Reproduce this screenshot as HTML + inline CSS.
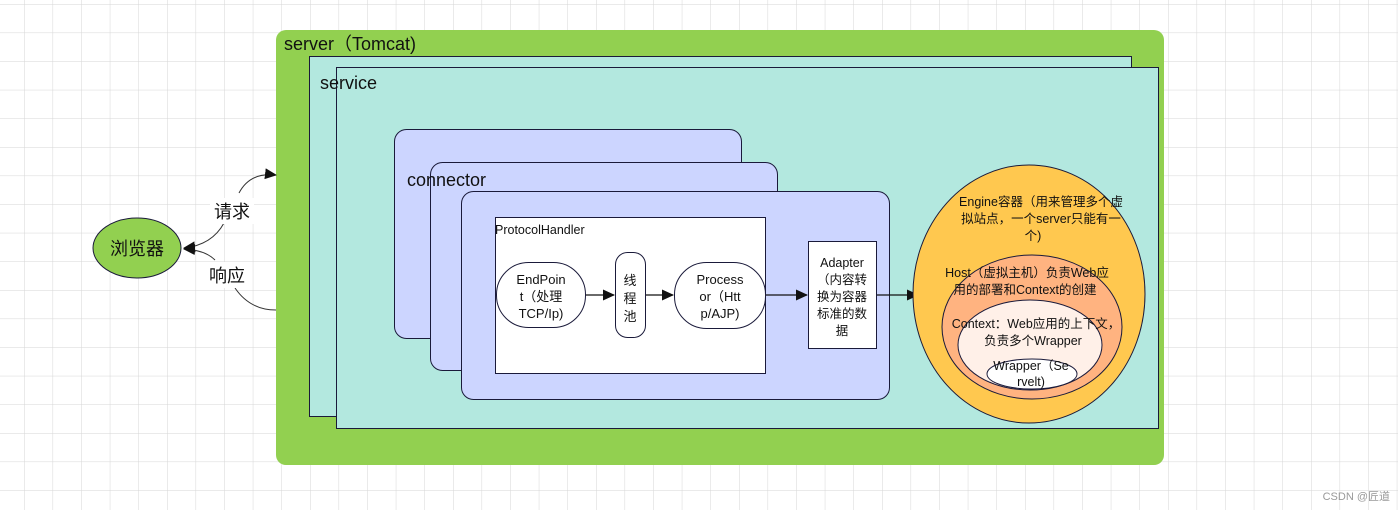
<!DOCTYPE html>
<html><head><meta charset="utf-8"><style>
html,body{margin:0;padding:0;width:1398px;height:510px;overflow:hidden;background:#fff;}
svg{display:block;font-family:"Liberation Sans","Noto Sans CJK SC",sans-serif;}
</style></head><body>
<svg width="1398" height="510" viewBox="0 0 1398 510" xmlns="http://www.w3.org/2000/svg">
<defs>
<pattern id="g" x="24" y="4" width="28.6" height="28.6" patternUnits="userSpaceOnUse">
<path d="M0 0H28.6M0 0V28.6" stroke="#d6d6d6" stroke-width="1" fill="none"/>
</pattern>
<marker id="a" markerWidth="12" markerHeight="12" refX="11" refY="5.5" orient="auto" markerUnits="userSpaceOnUse"><path d="M0,0 L12,5.5 L0,11 Z" fill="#111"/></marker>
</defs>
<rect width="1398" height="510" fill="url(#g)"/>
<rect x="276" y="30" width="888" height="435" rx="10" fill="#92d050"/>
<text x="284" y="50" font-size="18" fill="#111">server（Tomcat)</text>
<rect x="309.5" y="56.5" width="822" height="360" fill="#b3e8df" stroke="#1a1a3a"/>
<rect x="336.5" y="67.5" width="822" height="361" fill="#b3e8df" stroke="#1a1a3a"/>
<text x="320" y="89" font-size="18" fill="#111">service</text>
<rect x="394.5" y="129.5" width="347" height="209" rx="12" fill="#ccd5ff" stroke="#1a1a3a"/>
<rect x="430.5" y="162.5" width="347" height="208" rx="12" fill="#ccd5ff" stroke="#1a1a3a"/>
<text x="407" y="186" font-size="18" fill="#111">connector</text>
<rect x="461.5" y="191.5" width="428" height="208" rx="12" fill="#ccd5ff" stroke="#1a1a3a"/>
<rect x="495.5" y="217.5" width="270" height="156" fill="#fff" stroke="#1a1a3a"/>
<text x="495" y="234" font-size="12.5" fill="#111">ProtocolHandler</text>
<rect x="496.5" y="262.5" width="89" height="65" rx="32" fill="#fff" stroke="#1a1a3a"/>
<g font-size="13" fill="#111" text-anchor="middle">
<text x="541" y="284">EndPoin</text><text x="541" y="301">t（处理</text><text x="541" y="318">TCP/Ip)</text>
</g>
<rect x="615.5" y="252.5" width="30" height="85" rx="12" fill="#fff" stroke="#1a1a3a"/>
<g font-size="13" fill="#111" text-anchor="middle">
<text x="630" y="285">线</text><text x="630" y="303">程</text><text x="630" y="321">池</text>
</g>
<rect x="674.5" y="262.5" width="91" height="66" rx="32" fill="#fff" stroke="#1a1a3a"/>
<g font-size="13" fill="#111" text-anchor="middle">
<text x="720" y="284">Process</text><text x="720" y="301">or（Htt</text><text x="720" y="318">p/AJP)</text>
</g>
<rect x="808.5" y="241.5" width="68" height="107" fill="#fff" stroke="#1a1a3a"/>
<g font-size="12.5" fill="#111" text-anchor="middle">
<text x="842" y="267">Adapter</text><text x="842" y="284">（内容转</text><text x="842" y="301">换为容器</text><text x="842" y="318">标准的数</text><text x="842" y="335">据</text>
</g>
<g stroke="#111" stroke-width="1.2" fill="none" marker-end="url(#a)">
<line x1="586" y1="295" x2="614" y2="295"/>
<line x1="646" y1="295" x2="673" y2="295"/>
<line x1="766" y1="295" x2="807" y2="295"/>
<line x1="877" y1="295" x2="918" y2="295"/>
</g>
<ellipse cx="1029" cy="294" rx="116" ry="129" fill="#ffc84f" stroke="#1a1a3a"/>
<g font-size="12.5" fill="#111" text-anchor="middle">
<text x="1041" y="206">Engine容器（用来管理多个虚</text><text x="1041" y="223">拟站点，一个server只能有一</text><text x="1033" y="240">个)</text>
</g>
<ellipse cx="1032" cy="327" rx="90" ry="72" fill="#ffb380" stroke="#1a1a3a"/>
<g font-size="12.5" fill="#111" text-anchor="middle">
<text x="1027" y="277">Host（虚拟主机）负责Web应</text><text x="1025" y="294">用的部署和Context的创建</text>
</g>
<ellipse cx="1030" cy="345" rx="72" ry="45" fill="#fff0e8" stroke="#1a1a3a"/>
<g font-size="12.5" fill="#111" text-anchor="middle">
<text x="1036" y="328">Context：Web应用的上下文，</text><text x="1033" y="345">负责多个Wrapper</text>
</g>
<ellipse cx="1032" cy="374" rx="45" ry="15" fill="#fff" stroke="#1a1a3a"/>
<g font-size="12.5" fill="#111" text-anchor="middle">
<text x="1031" y="370">Wrapper（Se</text><text x="1031" y="386">rvelt)</text>
</g>
<ellipse cx="137" cy="248" rx="44" ry="30" fill="#92d050" stroke="#1a1a3a"/>
<text x="137" y="255" font-size="18" fill="#111" text-anchor="middle">浏览器</text>
<g stroke="#333" stroke-width="1" fill="none">
<path d="M239 193 Q250 172 276 175" marker-end="url(#a)"/>
<path d="M224 223 Q212 245 184 248" marker-end="url(#a)"/>
<path d="M215 260 Q205 250 184 249" marker-end="url(#a)"/>
<path d="M235 288 Q250 310 276 310"/>
</g>
<rect x="210" y="198" width="44" height="26" fill="#fff"/>
<text x="232" y="218" font-size="18" fill="#111" text-anchor="middle">请求</text>
<rect x="205" y="262" width="44" height="26" fill="#fff"/>
<text x="227" y="282" font-size="18" fill="#111" text-anchor="middle">响应</text>
<text x="1390" y="500" font-size="11" fill="#999" text-anchor="end">CSDN @匠道</text>
</svg>
</body></html>
